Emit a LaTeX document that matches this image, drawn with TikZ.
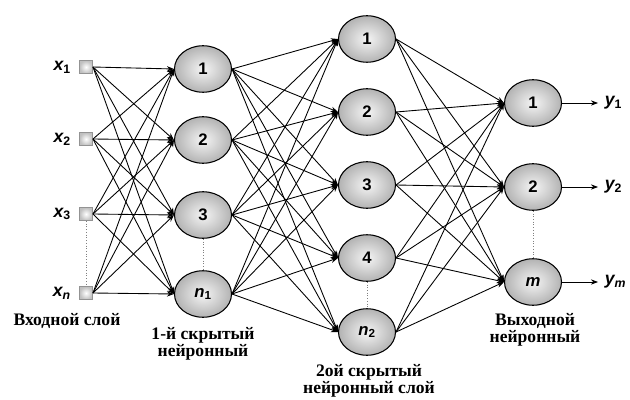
\documentclass[tikz,border=0pt]{standalone}
\usepackage{fontspec}
\setmainfont{Liberation Serif}
\setsansfont{Liberation Sans}
\usetikzlibrary{shapes.geometric,arrows.meta}

\begin{document}
\begin{tikzpicture}[x=0.04cm, y=-0.04cm, >={Stealth[length=8pt,width=6pt,inset=2.5pt]},
  neuron/.style={ellipse, draw, line width=1.2pt, minimum width=2.28cm, minimum height=1.86cm,
    inner color=gray!8, outer color=gray!60, font=\sffamily\bfseries\fontsize{19}{19}\selectfont},
  inbox/.style={rectangle, draw=gray!85, line width=1.1pt, minimum size=0.52cm, inner sep=0pt,
    inner color=white, outer color=gray!50},
  varlabel/.style={font=\sffamily\bfseries\itshape\fontsize{20}{20}\selectfont},
  caption/.style={align=center, font=\rmfamily\bfseries\fontsize{20}{20}\selectfont},
  link/.style={->, line width=1pt},
  gap/.style={dotted, gray, line width=1.1pt}]
\useasboundingbox (0,0) rectangle (630,400);

% Входной слой
\node[inbox] (x1) at (86,67) {};
\node[inbox] (x2) at (86,139) {};
\node[inbox] (x3) at (86,214) {};
\node[inbox] (x4) at (86,293) {};
\node[varlabel, left=6pt] at (x1.west) {x\textsubscript{\upshape 1}};
\node[varlabel, left=6pt] at (x2.west) {x\textsubscript{\upshape 2}};
\node[varlabel, left=6pt] at (x3.west) {x\textsubscript{\upshape 3}};
\node[varlabel, left=6pt] at (x4.west) {x\textsubscript{n}};

% 1-й скрытый слой
\node[neuron] (a1) at (203,69) {1};
\node[neuron] (a2) at (203,140) {2};
\node[neuron] (a3) at (203,215) {3};
\node[neuron] (a4) at (203,294) {\itshape n\textsubscript{\upshape 1}};

% 2ой скрытый слой
\node[neuron] (b1) at (367,39) {1};
\node[neuron] (b2) at (367,112) {2};
\node[neuron] (b3) at (367,185) {3};
\node[neuron] (b4) at (367,258) {4};
\node[neuron] (b5) at (367,332) {\itshape n\textsubscript{\upshape 2}};

% Выходной слой
\node[neuron] (c1) at (533,103) {1};
\node[neuron] (c2) at (533,187) {2};
\node[neuron] (c3) at (533,282) {\itshape m};

% связи
\foreach \i in {1,...,4}
  \foreach \j in {1,...,4}
    \draw[link] (x\i.east) -- (a\j.west);
\foreach \i in {1,...,4}
  \foreach \j in {1,...,5}
    \draw[link] (a\i.east) -- (b\j.west);
\foreach \i in {1,...,5}
  \foreach \j in {1,...,3}
    \draw[link] (b\i.east) -- (c\j.west);

% выходы
\coordinate (o1) at (598,103);
\coordinate (o2) at (598,187);
\coordinate (o3) at (598,282);
\draw[link] (c1.east) -- (o1) node[varlabel, right=4pt] {y\textsubscript{\upshape 1}};
\draw[link] (c2.east) -- (o2) node[varlabel, right=4pt] {y\textsubscript{\upshape 2}};
\draw[link] (c3.east) -- (o3) node[varlabel, right=4pt] {y\textsubscript{m}};

% пропуски
\draw[gap] (x3.south) -- (x4.north);
\draw[gap] (a3.south) -- (a4.north);
\draw[gap] (b4.south) -- (b5.north);
\draw[gap] (c2.south) -- (c3.north);

% подписи
\node[caption] (l0) at (67,321) {Входной слой};
\node[caption] (l1) at (203,344) {1-й скрытый\\нейронный};
\node[caption] (l2) at (369,381) {2ой скрытый\\нейронный слой};
\node[caption] (l3) at (535,330) {Выходной\\нейронный};
\end{tikzpicture}
\end{document}
